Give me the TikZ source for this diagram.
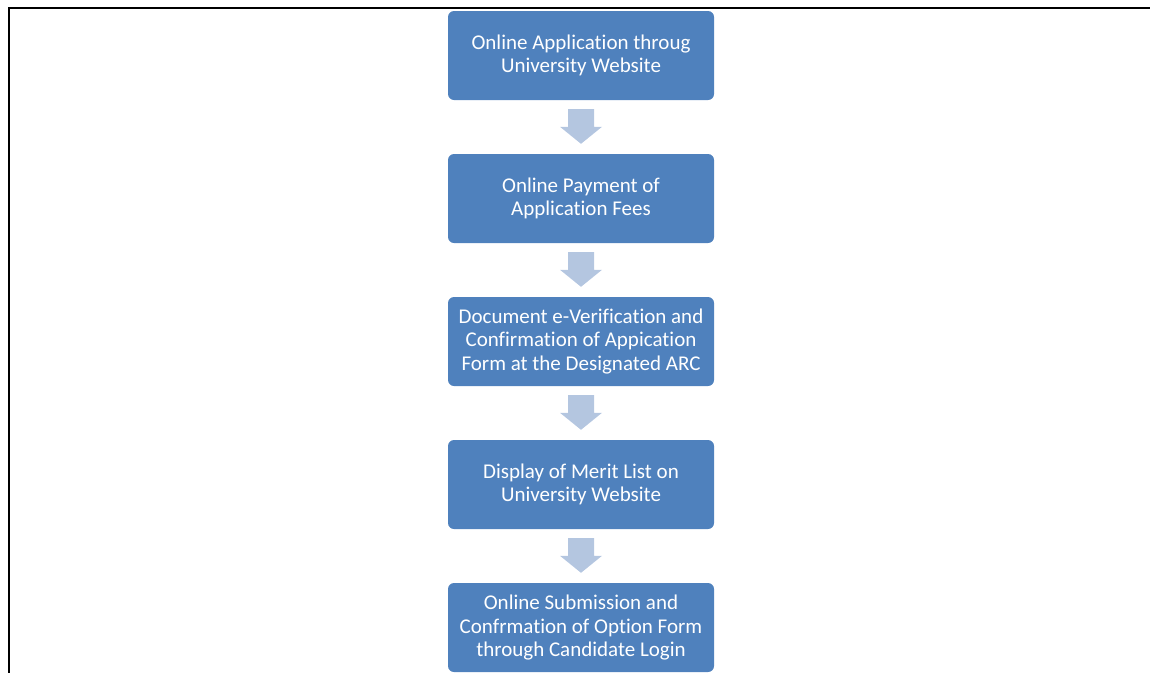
\documentclass[tikz,border=0pt]{standalone}
\usepackage{fontspec}
\setmainfont{Carlito}[Ligatures=NoCommon]
\usetikzlibrary{calc}
\definecolor{stepblue}{RGB}{79,129,189}
\definecolor{flowblue}{RGB}{180,198,224}
\tikzset{
  stepbox/.style={rectangle,rounded corners=6pt,fill=stepblue,text=white,
    minimum width=266pt,minimum height=89pt,inner sep=0pt,align=center,
    font=\fontsize{21}{23.5}\selectfont},
  flow/.style={fill=flowblue,
    to path={let \p1=(\tikztostart), \p2=(\tikztotarget) in
      (\x1-13pt,\y1) -- (\x1+13pt,\y1) -- (\x1+13pt,\y2+17pt)
      -- (\x1+21pt,\y2+17pt) -- (\x1,\y2) -- (\x1-21pt,\y2+17pt)
      -- (\x1-13pt,\y2+17pt) -- cycle}}
}
\begin{document}
\begin{tikzpicture}[x=1pt,y=-1pt]

      \useasboundingbox (0,0) rectangle (1150,673);
      \draw[line width=2pt] (1150,7.5) -- (8.5,7.5) -- (8.5,673);

      \begin{scope}[every node/.style={stepbox}]
        \node (apply)   at (581,55.5)  {Online Application throug\\University Website};
        \node (pay)     at (581,198.5) {Online Payment of\\Application Fees};
        \node (verify)  at (581,341.5) {Document e-Verification and\\Confirmation of Appication\\Form at the Designated ARC};
        \node (merit)   at (581,484.5) {Display of Merit List on\\University Website};
        \node (option)  at (581,627.5) {Online Submission and\\Confrmation of Option Form\\through Candidate Login};
      \end{scope}

      \path[flow] ([yshift=-9pt]apply.south)  to ([yshift=10pt]pay.north);
      \path[flow] ([yshift=-9pt]pay.south)    to ([yshift=10pt]verify.north);
      \path[flow] ([yshift=-9pt]verify.south) to ([yshift=10pt]merit.north);
      \path[flow] ([yshift=-9pt]merit.south)  to ([yshift=10pt]option.north);

    \end{tikzpicture}
\end{document}
